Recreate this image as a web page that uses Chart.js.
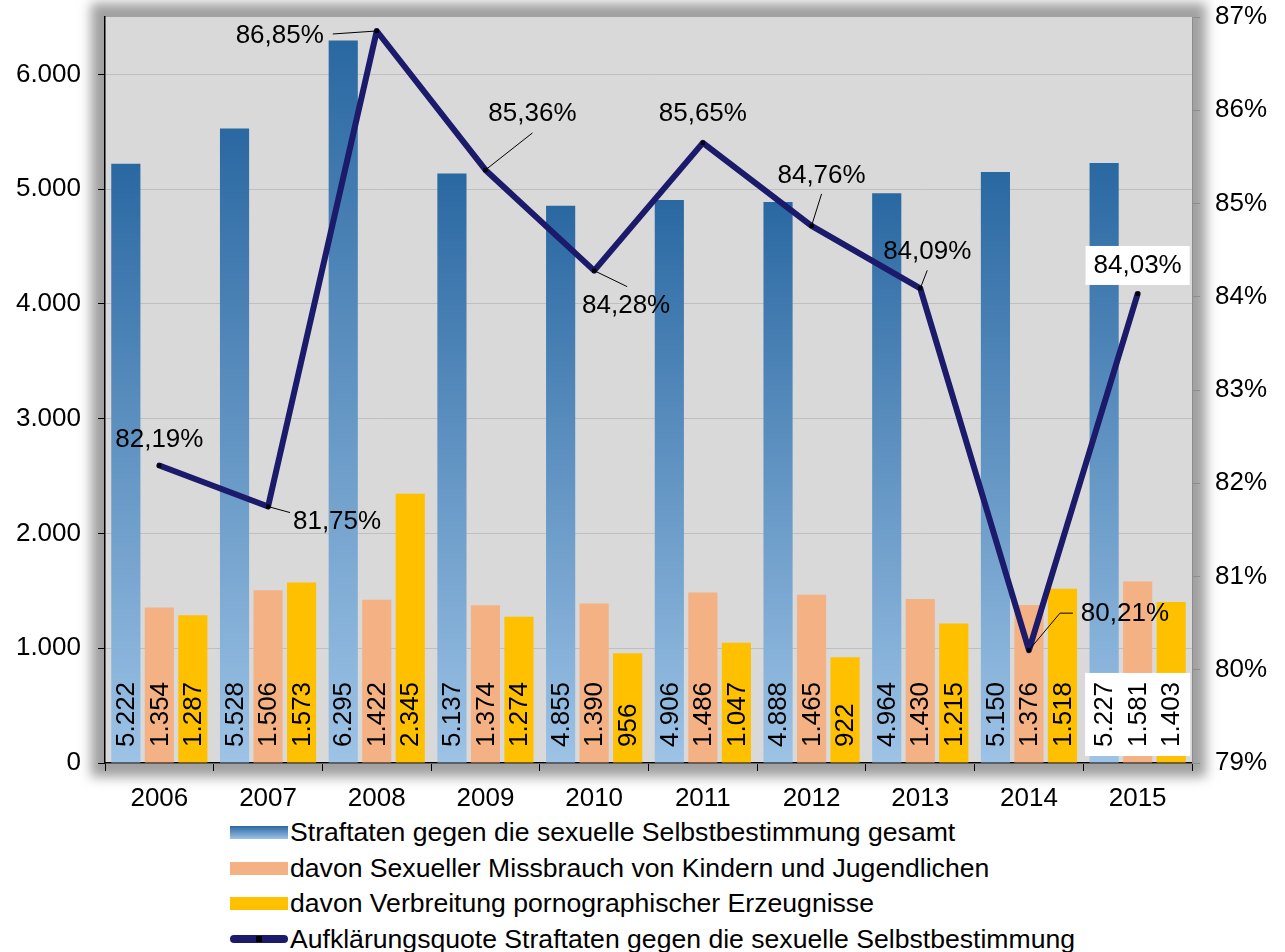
<!DOCTYPE html>
<html lang="de">
<head>
<meta charset="utf-8">
<title>Straftaten gegen die sexuelle Selbstbestimmung 2006–2015</title>
<script src="https://cdn.jsdelivr.net/npm/chart.js@4.4.1/dist/chart.umd.min.js"></script>
<style>
    html, body {
        margin: 0;
        padding: 0;
        background: #ffffff;
    }
    body {
        width: 1285px;
        height: 952px;
        position: relative;
        overflow: hidden;
        font-family: "Liberation Sans", Arial, sans-serif;
    }
    #chartWrap {
        position: absolute;
        left: 0;
        top: 0;
        width: 1285px;
        height: 815px;
    }
    #legend {
        position: absolute;
        left: 230px;
        top: 815px;
        margin: 0;
        padding: 0;
        list-style: none;
    }
    #legend li {
        height: 35.5px;
        display: flex;
        align-items: center;
        font-size: 26.6px;
        color: #000;
        white-space: nowrap;
    }
    .swatch {
        width: 58px;
        height: 13px;
        margin-right: 2px;
        position: relative;
        flex: none;
    }
    .swatch.line {
        height: 8px;
        border-radius: 4px;
    }
    .swatch.line::after {
        content: "";
        position: absolute;
        left: 26px;
        top: 1px;
        width: 6px;
        height: 6px;
        background: #000;
    }
</style>
</head>
<body>
<div id="chartWrap"><canvas id="chart" width="1285" height="815"></canvas></div>
<ul id="legend"></ul>

<script>
// data
const years = ['2006', '2007', '2008', '2009', '2010', '2011', '2012', '2013', '2014', '2015'];
const totalOffences = [5222, 5528, 6295, 5137, 4855, 4906, 4888, 4964, 5150, 5227];
const childAbuse = [1354, 1506, 1422, 1374, 1390, 1486, 1465, 1430, 1376, 1581];
const pornography = [1287, 1573, 2345, 1274, 956, 1047, 922, 1215, 1518, 1403];
const clearanceRate = [82.19, 81.75, 86.85, 85.36, 84.28, 85.65, 84.76, 84.09, 80.21, 84.03];

const seriesNames = [
    'Straftaten gegen die sexuelle Selbstbestimmung gesamt',
    'davon Sexueller Missbrauch von Kindern und Jugendlichen',
    'davon Verbreitung pornographischer Erzeugnisse',
    'Aufklärungsquote Straftaten gegen die sexuelle Selbstbestimmung'
];

const countTicks = [0, 1000, 2000, 3000, 4000, 5000, 6000];
const rateTicks = [79, 80, 81, 82, 83, 84, 85, 86, 87];

// label placement for the rate line (offsets from the point, px)
const rateLabelPos = [
    { dx: 0, dy: -26 },
    { dx: 69, dy: 15, leader: [[22, 6]] },
    { dx: -97, dy: 5, leader: [[-44, 3]] },
    { dx: 47, dy: -56, leader: [[47, -37]] },
    { dx: 32, dy: 35, leader: [[33, 16]] },
    { dx: 0, dy: -29 },
    { dx: 10, dy: -50, leader: [[10, -32]] },
    { dx: 7, dy: -37, leader: [[7, -18]] },
    { dx: 96, dy: -36, leader: [[31, -37], [44, -37]] },
    { dx: 0, dy: -28, box: true }
];

const BLUE_TOP = '#2A68A2';
const BLUE_BOTTOM = '#9DC3E6';
const ORANGE = '#F4B183';
const YELLOW = '#FFC000';
const NAVY = '#1C1A6B';

function fmtCount(v) {
    return String(v).replace(/\B(?=(\d{3})+(?!\d))/g, '.');
}

function fmtRate(v) {
    return v.toFixed(2).replace('.', ',') + '%';
}

function blueGradient(context) {
    const chart = context.chart;
    if (!chart.chartArea || context.type !== 'data') {
        return '#5B9BD5';
    }
    const y = chart.scales.y;
    const top = y.getPixelForValue(context.raw);
    const bottom = y.getPixelForValue(0);
    const g = chart.ctx.createLinearGradient(0, top, 0, bottom);
    g.addColorStop(0, BLUE_TOP);
    g.addColorStop(1, BLUE_BOTTOM);
    return g;
}

// vertical axes: no extra room for the end labels, keep the plot box fixed
function fixVertical(width) {
    return (s) => {
        s.width = width;
        s.paddingTop = 0;
        s.paddingBottom = 0;
    };
}

// soft grey shadow round the plot area, then the plot fill
const plotShadow = {
    id: 'plotShadow',
    beforeDraw(chart) {
        const { ctx, chartArea: a } = chart;
        const spread = 14;
        ctx.save();
        ctx.filter = 'blur(6px)';
        ctx.fillStyle = '#A0A0A0';
        ctx.fillRect(a.left - spread, a.top - spread, a.right - a.left + spread * 2, a.bottom - a.top + spread * 2);
        ctx.restore();
        ctx.save();
        ctx.fillStyle = '#D9D9D9';
        ctx.fillRect(a.left, a.top, a.right - a.left, a.bottom - a.top);
        ctx.restore();
    }
};

const valueLabels = {
    id: 'valueLabels',
    afterDatasetsDraw(chart) {
        const { ctx, chartArea: a } = chart;
        ctx.save();
        ctx.font = '26px "Liberation Sans", Arial, sans-serif';
        ctx.fillStyle = '#000';

        // white boxes behind the 2015 bar labels
        const barSets = [0, 1, 2];
        const lastIdx = years.length - 1;
        barSets.forEach((di) => {
            const el = chart.getDatasetMeta(di).data[lastIdx];
            const text = fmtCount(chart.data.datasets[di].data[lastIdx]);
            const w = ctx.measureText(text).width;
            ctx.save();
            ctx.translate(el.x, a.bottom - 16);
            ctx.rotate(-Math.PI / 2);
            ctx.fillStyle = '#fff';
            ctx.fillRect(-9, -19, w + 18, 38);
            ctx.restore();
        });
        // bar labels, rotated, at the foot of each bar
        barSets.forEach((di) => {
            const meta = chart.getDatasetMeta(di);
            meta.data.forEach((el, i) => {
                const text = fmtCount(chart.data.datasets[di].data[i]);
                ctx.save();
                ctx.translate(el.x + 1, a.bottom - 16);
                ctx.rotate(-Math.PI / 2);
                ctx.textAlign = 'left';
                ctx.textBaseline = 'middle';
                ctx.fillText(text, 0, 0);
                ctx.restore();
            });
        });

        // rate labels with leader lines
        const lineMeta = chart.getDatasetMeta(3);
        lineMeta.data.forEach((pt, i) => {
            const pos = rateLabelPos[i];
            const text = fmtRate(chart.data.datasets[3].data[i]);
            const cx = pt.x + pos.dx;
            const cy = pt.y + pos.dy;
            if (pos.leader) {
                ctx.beginPath();
                ctx.moveTo(pt.x, pt.y);
                pos.leader.forEach(([lx, ly]) => ctx.lineTo(pt.x + lx, pt.y + ly));
                ctx.strokeStyle = '#000';
                ctx.lineWidth = 1;
                ctx.stroke();
            }
            if (pos.box) {
                const w = ctx.measureText(text).width;
                ctx.fillStyle = '#fff';
                ctx.fillRect(cx - w / 2 - 8, cy - 20, w + 16, 39);
            }
            ctx.fillStyle = '#000';
            ctx.textAlign = 'center';
            ctx.textBaseline = 'middle';
            ctx.fillText(text, cx, cy);
        });
        ctx.restore();
    }
};

Chart.defaults.font.family = '"Liberation Sans", Arial, sans-serif';
Chart.defaults.font.size = 26;
Chart.defaults.color = '#000';

const chart = new Chart(document.getElementById('chart'), {
    type: 'bar',
    data: {
        labels: years,
        datasets: [
            {
                label: seriesNames[0],
                data: totalOffences,
                backgroundColor: blueGradient,
                yAxisID: 'y',
                order: 1
            },
            {
                label: seriesNames[1],
                data: childAbuse,
                backgroundColor: ORANGE,
                yAxisID: 'y',
                order: 1
            },
            {
                label: seriesNames[2],
                data: pornography,
                backgroundColor: YELLOW,
                yAxisID: 'y',
                order: 1
            },
            {
                type: 'line',
                label: seriesNames[3],
                data: clearanceRate,
                yAxisID: 'y1',
                borderColor: NAVY,
                borderWidth: 6,
                borderJoinStyle: 'round',
                borderCapStyle: 'round',
                tension: 0,
                pointStyle: 'rect',
                pointRadius: 3,
                pointBackgroundColor: '#000',
                pointBorderWidth: 0,
                order: 0
            }
        ]
    },
    options: {
        responsive: false,
        devicePixelRatio: 1,
        animation: false,
        datasets: {
            bar: {
                categoryPercentage: 0.925,
                barPercentage: 0.87
            }
        },
        layout: { padding: { top: 17, left: 0, right: 0, bottom: 0 } },
        plugins: {
            legend: { display: false },
            tooltip: { enabled: false }
        },
        scales: {
            x: {
                grid: {
                    offset: true,
                    drawOnChartArea: false,
                    tickLength: 8,
                    tickColor: '#000'
                },
                border: { color: '#000', width: 1.5 },
                ticks: { padding: 12, maxRotation: 0 },
                afterFit: (s) => { s.height = 52; }
            },
            y: {
                position: 'left',
                min: 0,
                max: 6500,
                afterBuildTicks: (s) => { s.ticks = countTicks.map((v) => ({ value: v })); },
                ticks: {
                    padding: 17,
                    callback: (v) => fmtCount(v)
                },
                grid: {
                    color: '#BFBFBF',
                    tickLength: 7,
                    tickColor: '#000'
                },
                border: { color: '#000', width: 1.5 },
                afterFit: fixVertical(105)
            },
            y1: {
                position: 'right',
                min: 79,
                max: 87,
                afterBuildTicks: (s) => { s.ticks = rateTicks.map((v) => ({ value: v })); },
                ticks: {
                    padding: 15,
                    callback: (v) => v + '%'
                },
                grid: {
                    drawOnChartArea: false,
                    tickLength: 8,
                    tickColor: '#8C8C8C'
                },
                border: { color: '#8C8C8C', width: 1 },
                afterFit: fixVertical(93)
            }
        }
    },
    plugins: [plotShadow, valueLabels]
});

// legend, one entry per row, left aligned
const legendStyles = [
    `background: linear-gradient(${BLUE_TOP}, ${BLUE_BOTTOM});`,
    `background: ${ORANGE};`,
    `background: ${YELLOW};`,
    `background: ${NAVY};`
];
document.getElementById('legend').innerHTML = chart.data.datasets.map((ds, i) => `
    <li><span class="swatch${ds.type === 'line' ? ' line' : ''}" style="${legendStyles[i]}"></span>${ds.label}</li>
`).join('');
</script>
</body>
</html>
